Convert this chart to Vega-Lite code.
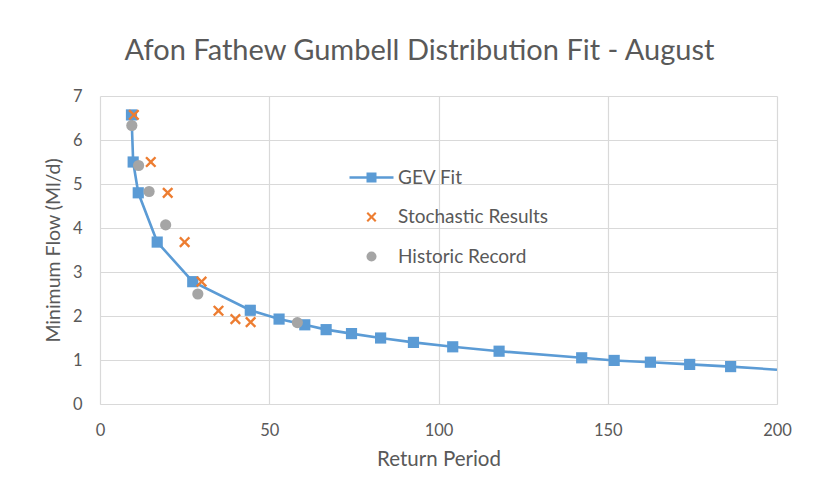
{
  "$schema": "https://vega.github.io/schema/vega-lite/v6.json",
  "width": 677,
  "height": 308,
  "autosize": {"type": "none"},
  "padding": {"left": 100, "top": 96, "right": 37, "bottom": 96},
  "background": "white",
  "title": {
    "text": "Afon Fathew Gumbell Distribution Fit - August",
    "fontSize": 29,
    "font": "Lato",
    "fontWeight": "normal",
    "color": "#595959",
    "anchor": "middle",
    "frame": "group",
    "dx": -19,
    "offset": 22
  },
  "config": {
    "font": "Lato",
    "view": {"stroke": null},
    "axis": {
      "labelColor": "#595959",
      "titleColor": "#595959",
      "labelFontSize": 16.5,
      "titleFontWeight": "normal",
      "gridColor": "#D9D9D9",
      "gridWidth": 1.2,
      "ticks": false,
      "labelFlush": false
    },
    "legend": {
      "labelColor": "#595959",
      "labelFontSize": 19
    }
  },
  "datasets": {
    "flows": [
      {"series": "GEV Fit", "period": 9.3, "flow": 6.57},
      {"series": "GEV Fit", "period": 9.8, "flow": 5.5},
      {"series": "GEV Fit", "period": 11.3, "flow": 4.8},
      {"series": "GEV Fit", "period": 16.9, "flow": 3.68},
      {"series": "GEV Fit", "period": 27.4, "flow": 2.78},
      {"series": "GEV Fit", "period": 44.4, "flow": 2.13},
      {"series": "GEV Fit", "period": 52.9, "flow": 1.93},
      {"series": "GEV Fit", "period": 60.5, "flow": 1.8},
      {"series": "GEV Fit", "period": 66.8, "flow": 1.69},
      {"series": "GEV Fit", "period": 74.3, "flow": 1.6},
      {"series": "GEV Fit", "period": 82.9, "flow": 1.5},
      {"series": "GEV Fit", "period": 92.6, "flow": 1.4},
      {"series": "GEV Fit", "period": 104.2, "flow": 1.3},
      {"series": "GEV Fit", "period": 117.9, "flow": 1.2},
      {"series": "GEV Fit", "period": 142.3, "flow": 1.05},
      {"series": "GEV Fit", "period": 151.9, "flow": 0.99},
      {"series": "GEV Fit", "period": 162.6, "flow": 0.95},
      {"series": "GEV Fit", "period": 174.2, "flow": 0.9},
      {"series": "GEV Fit", "period": 186.3, "flow": 0.85},
      {"series": "GEV Fit", "period": 200, "flow": 0.78},
      {"series": "Stochastic Results", "period": 10, "flow": 6.57},
      {"series": "Stochastic Results", "period": 15, "flow": 5.5},
      {"series": "Stochastic Results", "period": 20, "flow": 4.8},
      {"series": "Stochastic Results", "period": 25, "flow": 3.68},
      {"series": "Stochastic Results", "period": 30, "flow": 2.78},
      {"series": "Stochastic Results", "period": 35, "flow": 2.12},
      {"series": "Stochastic Results", "period": 40, "flow": 1.93},
      {"series": "Stochastic Results", "period": 44.5, "flow": 1.86},
      {"series": "Historic Record", "period": 9.4, "flow": 6.33},
      {"series": "Historic Record", "period": 11.4, "flow": 5.42},
      {"series": "Historic Record", "period": 14.5, "flow": 4.83},
      {"series": "Historic Record", "period": 19.4, "flow": 4.07},
      {"series": "Historic Record", "period": 28.9, "flow": 2.5},
      {"series": "Historic Record", "period": 58.3, "flow": 1.85}
    ]
  },
  "data": {"name": "flows"},
  "encoding": {
    "x": {
      "field": "period",
      "type": "quantitative",
      "scale": {"domain": [0, 200], "nice": false},
      "axis": {
        "title": "Return Period",
        "titleFontSize": 20.5,
        "values": [0, 50, 100, 150, 200],
        "domain": true,
        "domainColor": "#D9D9D9",
        "domainWidth": 1.2,
        "labelPadding": 18,
        "titlePadding": 11
      }
    },
    "y": {
      "field": "flow",
      "type": "quantitative",
      "scale": {"domain": [0, 7], "nice": false},
      "axis": {
        "title": "Minimum Flow (Ml/d)",
        "titleFontSize": 19.5,
        "values": [0, 1, 2, 3, 4, 5, 6, 7],
        "domain": false,
        "labelPadding": 18,
        "titlePadding": 9
      }
    }
  },
  "layer": [
    {
      "transform": [{"filter": "datum.series === 'GEV Fit'"}],
      "mark": {"type": "line", "color": "#5B9BD5", "strokeWidth": 2.6, "clip": true},
      "encoding": {"order": {"field": "period", "type": "quantitative"}}
    },
    {
      "transform": [{"filter": "datum.series === 'GEV Fit' && datum.period < 199"}],
      "mark": {"type": "point", "shape": "square", "filled": true, "color": "#5B9BD5", "size": 125, "opacity": 1}
    },
    {
      "transform": [{"filter": "datum.series !== 'GEV Fit'"}],
      "mark": {"type": "point", "filled": true, "opacity": 1, "size": 125},
      "encoding": {
        "color": {
          "field": "series",
          "type": "nominal",
          "scale": {
            "domain": ["GEV Fit", "Stochastic Results", "Historic Record"],
            "range": ["#5B9BD5", "#ED7D31", "#A5A5A5"]
          },
          "legend": {
            "title": null,
            "orient": "none",
            "legendX": 262,
            "legendY": 72,
            "symbolSize": 100,
            "labelOffset": 17,
            "rowPadding": 19.5,
            "padding": 0
          }
        },
        "shape": {
          "field": "series",
          "type": "nominal",
          "scale": {
            "domain": ["GEV Fit", "Stochastic Results", "Historic Record"],
            "range": [
              "M-4.4,-0.25H4.4V0.25H-4.4ZM-1,-1H1V1H-1Z",
              "M-1,-0.7L-0.7,-1L0,-0.3L0.7,-1L1,-0.7L0.3,0L1,0.7L0.7,1L0,0.3L-0.7,1L-1,0.7L-0.3,0Z",
              "circle"
            ]
          },
          "legend": {
            "title": null,
            "orient": "none",
            "legendX": 262,
            "legendY": 72,
            "symbolSize": 100,
            "labelOffset": 17,
            "rowPadding": 19.5,
            "padding": 0
          }
        }
      }
    }
  ]
}
